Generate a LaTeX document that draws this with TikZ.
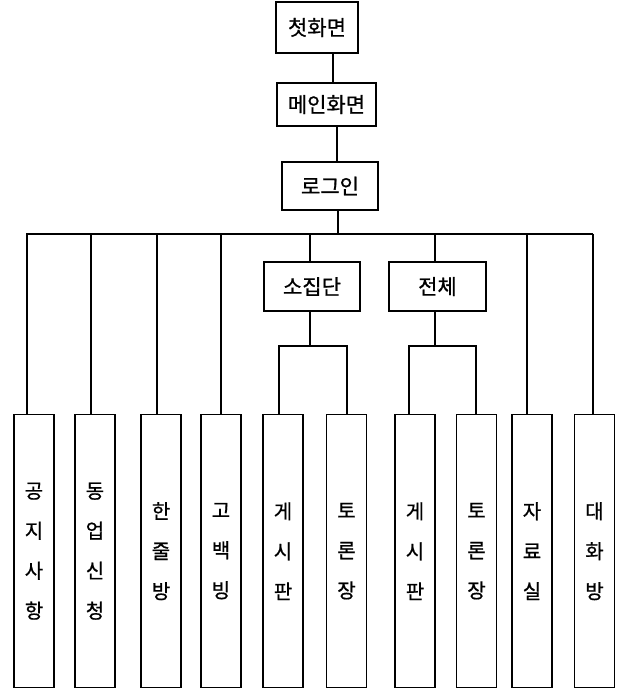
\documentclass[tikz,border=0pt]{standalone}
\usepackage{fontspec}
\setmainfont{Noto Sans CJK KR}[FakeBold=0.8]
\begin{document}
\begin{tikzpicture}[x=1pt,y=-1pt,
  every path/.style={line width=1.3pt},
  box/.style={draw, line width=1.3pt, inner sep=0pt, font=\fontsize{21}{24}\selectfont},
  col/.style={draw, line width=1.3pt, inner sep=0pt, anchor=north, minimum width=40pt, minimum height=273pt, align=center, font=\fontsize{20}{40}\selectfont}]
\useasboundingbox (0,0) rectangle (620,692);
% top chain
\node[box, minimum width=82pt, minimum height=51pt] (t1) at (317,27.5) {첫화면};
\node[box, minimum width=99pt, minimum height=43pt] (t2) at (326.5,104.5) {메인화면};
\node[box, minimum width=96pt, minimum height=48pt] (t3) at (330,186) {로그인};
\coordinate (a1) at (333,0);
\coordinate (a2) at (337,0);
\coordinate (d0) at (338,234);
\draw (a1 |- t1.south) -- (a1 |- t2.north);
\draw (a2 |- t2.south) -- (a2 |- t3.north);
\draw (d0 |- t3.south) -- (d0);
% bus
\coordinate (busL) at (26,234);
\coordinate (busR) at (593,234);
\draw (busL) -- (busR);
% middle groups
\node[box, minimum width=96pt, minimum height=49pt] (g1) at (312,286.5) {소집단};
\node[box, minimum width=97pt, minimum height=49pt] (g2) at (437.5,286.5) {전체};
% bottom columns
\node[col] (b1) at (34,414) {공\\지\\사\\항};
\node[col] (b2) at (95,414) {동\\업\\신\\청};
\node[col] (b3) at (161,414) {한\\줄\\방};
\node[col] (b4) at (221,414) {고\\백\\빙};
\node[col] (b5) at (283,414) {게\\시\\판};
\node[col] (b6) at (346.5,414) {토\\론\\장};
\node[col] (b7) at (415,414) {게\\시\\판};
\node[col] (b8) at (476.5,414) {토\\론\\장};
\node[col] (b9) at (532,414) {자\\료\\실};
\node[col] (b10) at (594.5,414) {대\\화\\방};
% drops from bus
\coordinate (l1) at (27,234);
\coordinate (l2) at (91,234);
\coordinate (l3) at (157,234);
\coordinate (l4) at (221,234);
\coordinate (l9) at (527,234);
\coordinate (l10) at (593,234);
\draw (l1) -- (l1 |- b1.north);
\draw (l2) -- (l2 |- b2.north);
\draw (l3) -- (l3 |- b3.north);
\draw (l4) -- (l4 |- b4.north);
\draw (l9) -- (l9 |- b9.north);
\draw (l10) -- (l10 |- b10.north);
\coordinate (m1) at (310,234);
\coordinate (m2) at (435,234);
\draw (m1) -- (m1 |- g1.north);
\draw (m2) -- (m2 |- g2.north);
% sub-buses
\coordinate (s1) at (310,346);
\coordinate (s5) at (279,346);
\coordinate (s6) at (347,346);
\draw (m1 |- g1.south) -- (s1);
\draw (s5 |- b5.north) -- (s5) -- (s6) -- (s6 |- b6.north);
\coordinate (s2) at (435,346);
\coordinate (s7) at (409,346);
\coordinate (s8) at (476,346);
\draw (m2 |- g2.south) -- (s2);
\draw (s7 |- b7.north) -- (s7) -- (s8) -- (s8 |- b8.north);
\end{tikzpicture}
\end{document}
